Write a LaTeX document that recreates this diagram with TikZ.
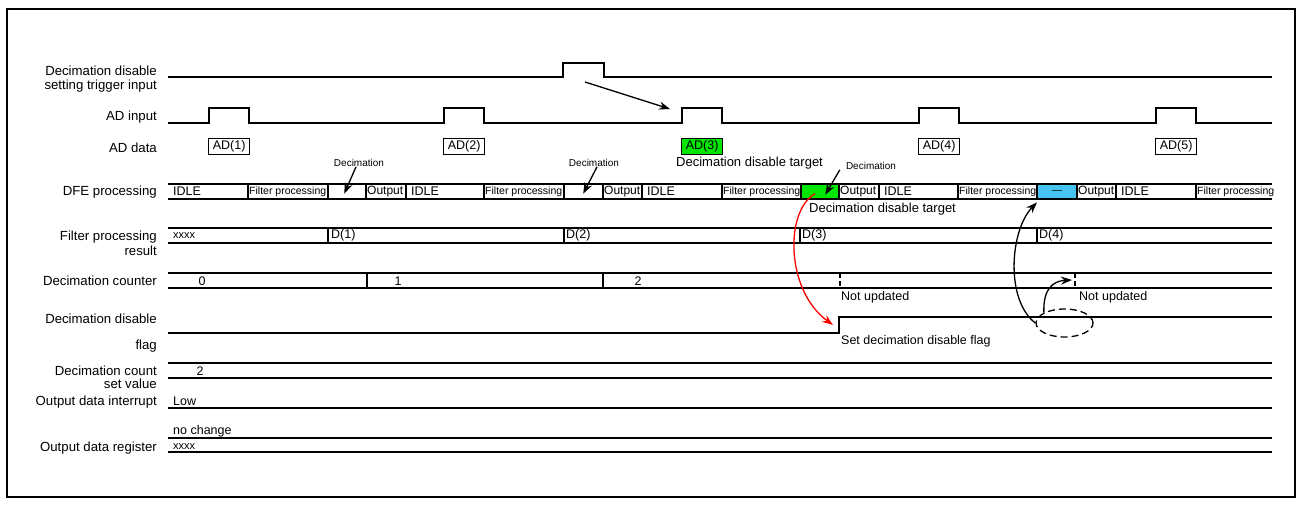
\documentclass[tikz,border=0pt]{standalone}
\usepackage{fontspec}
\setmainfont{Liberation Sans}
\usetikzlibrary{arrows.meta,positioning,shapes.geometric}
\definecolor{targetgreen}{RGB}{0,230,0}
\definecolor{skipblue}{RGB}{70,195,240}

\begin{document}
\begin{tikzpicture}[x=1pt, y=-1pt,
  sig/.style={line width=1.5pt},
  lbl/.style={anchor=east, align=right, inner sep=0pt, font=\fontsize{13.2}{14}\selectfont},
  txt/.style={anchor=west, inner sep=0pt, font=\fontsize{12.5}{14}\selectfont},
  fine/.style={anchor=west, inner sep=0pt, font=\fontsize{10.5}{12}\selectfont},
  note/.style={inner sep=0pt, font=\fontsize{10}{12}\selectfont},
  seg/.style={inner sep=0pt, anchor=north west, minimum height=15pt},
  adbox/.style={draw, line width=1.2pt, anchor=north west, minimum width=41pt, minimum height=16pt, inner sep=0pt, font=\fontsize{12.5}{14}\selectfont},
  arr/.style={-{Stealth[length=11pt,width=8pt]}, line width=1.3pt}]
  \useasboundingbox (0,0) rectangle (1301,504);
  \draw[line width=1.8pt] (7,9) rectangle (1295,497);

  % signal names
  \node[lbl] (l-trg) at (157,79) {Decimation disable\\setting trigger input};
  \node[lbl] (l-adin) at (157,117) {AD input};
  \node[lbl] (l-addata) at (157,148) {AD data};
  \node[lbl] (l-dfe) at (157,192) {DFE processing};
  \node[lbl] (l-filt) at (157,243) {Filter processing\\[1pt]result};
  \node[lbl] (l-cnt) at (157,281) {Decimation counter};
  \node[lbl] (l-flag) at (157,333) {Decimation disable\\[12pt]flag};
  \node[lbl] (l-set) at (157,377.5) {Decimation count\\[-1pt]set value};
  \node[lbl] (l-int) at (157,402) {Output data interrupt};
  \node[lbl] (l-reg) at (157,448) {Output data register};

  % trigger and AD input
  \draw[sig] (168,77) -- (563,77) |- (604,63) |- (1272,77);
  \draw[sig] (168,123) foreach \x in {209,444,682,919,1156} { -- (\x,123) -- (\x,108) -- (\x+40,108) -- (\x+40,123) } -- (1272,123);
  \coordinate (trgA) at (585,82);
  \coordinate (trgB) at (670,109);
  \draw[arr] (trgA) -- (trgB);

  % AD data
  \foreach \x/\n in {209/1,444/2,919/4,1156/5}
    \node[adbox] (ad\n) at (\x-1,138) {AD(\n)};
  \node[adbox, fill=targetgreen] (ad3) at (681,138) {AD(3)};
  \node[txt, font=\fontsize{13}{14}\selectfont] (tgt1) at (676,163) {Decimation disable target};

  % DFE processing
  \foreach \x [count=\i] in {328,564} \node[seg, minimum width=38pt] (dec\i) at (\x,184) {};
  \node[seg, fill=targetgreen, minimum width=38pt] (dec3) at (801,184) {};
  \node[seg, fill=skipblue, minimum width=40pt, font=\fontsize{10}{12}\selectfont] (dec4) at (1037,184) {\textemdash};
  \draw[sig] (168,184) -- (1272,184) (168,199) -- (1272,199);
  \foreach \x in {248,328,366,406,484,564,603,642,722,801,839,879,958,1037,1077,1116,1196}
    \draw[sig] (\x,184) -- (\x,199);
  \foreach \x [count=\i] in {168,406,642,879,1116} \node[txt] (idle\i) at (\x+5,191) {IDLE};
  \foreach \x [count=\i] in {248,484,722,958,1196} \node[fine] (filt\i) at (\x+1,192) {Filter processing};
  \foreach \x [count=\i] in {366,603,839,1077} \node[txt, font=\fontsize{12}{14}\selectfont] (out\i) at (\x+1,191.5) {Output};
  \node[note] (n1) at (359,163) {Decimation};
  \node[note] (n2) at (594,163) {Decimation};
  \node[note] (n3) at (871,166) {Decimation};
  \draw[arr] ([xshift=-3pt]n1.south) -- ([xshift=-3pt,yshift=-2pt]dec1.center);
  \draw[arr] ([xshift=3pt]n2.south) -- ([yshift=-2pt]dec2.center);
  \draw[arr] ([xshift=-6pt]n3.south west) -- ([xshift=5pt,yshift=-3pt]dec3.center);
  \node[txt, font=\fontsize{13}{14}\selectfont] (tgt2) at (809,209) {Decimation disable target};

  % filter processing result
  \draw[sig] (168,228) -- (1272,228) (168,243) -- (1272,243);
  \foreach \x in {328,564,800,1037} \draw[sig] (\x,228) -- (\x,243);
  \node[txt, font=\fontsize{11}{12}\selectfont] (res0) at (173,235.5) {xxxx};
  \foreach \x [count=\i] in {331,566,802,1039} \node[txt] (res\i) at (\x,235.5) {D(\i)};

  % decimation counter
  \draw[sig] (168,273) -- (1272,273) (168,288) -- (1272,288);
  \foreach \x in {367,603} \draw[sig] (\x,273) -- (\x,288);
  \foreach \x in {840,1075} \draw[sig, dash pattern=on 5pt off 3pt] (\x,273) -- (\x,288);
  \foreach \x/\v in {202/0,398/1,638/2}
    \node[inner sep=0pt, font=\fontsize{12.5}{14}\selectfont] (cnt\v) at (\x,281) {\v};
  \node[txt] (nu1) at (841,297) {Not updated};
  \node[txt] (nu2) at (1079,297) {Not updated};
  \coordinate (skiptip) at (1072,280);

  % decimation disable flag
  \draw[sig] (168,333) -- (839,333) |- (1272,317);
  \node[txt] (setflag) at (841,341) {Set decimation disable flag};
  \coordinate (flagtip) at (833,325);
  \node[draw, ellipse, line width=1.3pt, dash pattern=on 7pt off 4pt, minimum width=57pt, minimum height=28pt, inner sep=0pt] (keep) at (1064.5,323) {};

  % count set value, interrupt, register
  \draw[sig] (168,363) -- (1272,363) (168,378) -- (1272,378);
  \node[inner sep=0pt, font=\fontsize{12.5}{14}\selectfont] (setv) at (200,371) {2};
  \draw[sig] (168,408) -- (1272,408);
  \node[txt] (low) at (173,401) {Low};
  \draw[sig] (168,438) -- (1272,438) (168,452) -- (1272,452);
  \node[txt] (nochg) at (173,431) {no change};
  \node[txt, font=\fontsize{11}{12}\selectfont] (regx) at (173,447) {xxxx};

  % curved connectors
  \draw[arr, red] ([xshift=-5pt,yshift=-2pt]dec3.center) .. controls (785,210) and (785,290) .. (flagtip);
  \draw[arr] (keep.west) .. controls (1005,300) and (1010,230) .. ([yshift=-3pt]dec4.south west);
  \draw[arr] (keep.north west) .. controls (1043,290) and (1052,281) .. (skiptip);
\end{tikzpicture}
\end{document}
